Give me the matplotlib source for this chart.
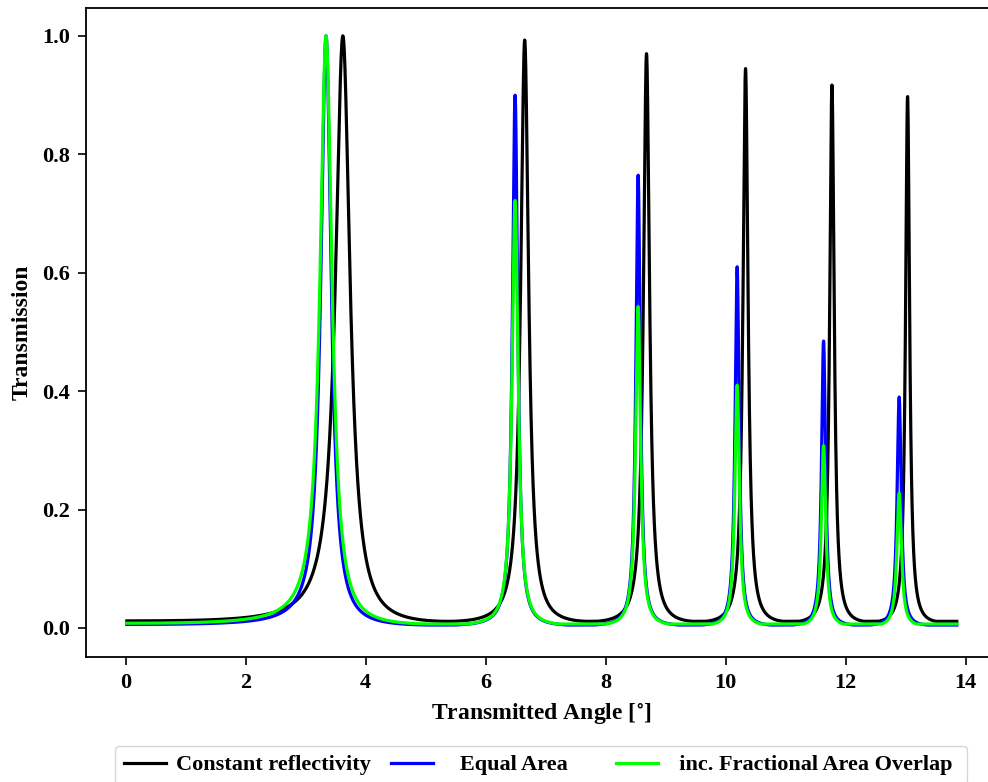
import numpy as np
import matplotlib
matplotlib.use("Agg")
import matplotlib.pyplot as plt

# Peak angles [deg] and peak transmission of each curve
black_centers = [3.62, 6.65, 8.68, 10.33, 11.77, 13.03]
black_heights = [1.0, 0.993, 0.970, 0.945, 0.917, 0.898]
blue_centers = [3.34, 6.49, 8.54, 10.19, 11.63, 12.89]
blue_heights = [1.0, 0.900, 0.765, 0.610, 0.485, 0.390]
green_centers = [3.34, 6.49, 8.54, 10.19, 11.63, 12.89]
green_heights = [1.0, 0.722, 0.543, 0.410, 0.308, 0.228]

# coefficient of finesse for each peak (losses broaden the later orders)
black_F = [88, 88, 88, 88, 88, 88]
blue_F = [200, 200, 170, 140, 110, 85]
green_F = [150, 150, 130, 110, 90, 70]

theta = np.linspace(0.02, 13.85, 5000)


def airy(theta, centers, heights, F):
    # Fabry-Perot transmission, phase goes with cos(theta)
    c = np.cos(np.radians(theta))
    cc = np.cos(np.radians(np.array(centers)))
    P = np.abs(np.diff(cc)).mean()
    d = np.clip(c[:, None] - cc[None, :], -P / 2, P / 2)
    F = np.array(F, dtype=float)[None, :]
    T = np.array(heights)[None, :] / (1 + F * np.sin(np.pi * d / P) ** 2)
    return T.max(axis=1)


plt.rcParams['font.family'] = ['Liberation Serif', 'DejaVu Serif']
plt.rcParams['font.weight'] = 'bold'
plt.rcParams['mathtext.fontset'] = 'stix'

fig = plt.figure(figsize=(9.88, 7.82), dpi=100)
ax = fig.add_axes([86 / 988, 1 - 657 / 782, (997 - 86) / 988, (657 - 8) / 782])

ax.plot(theta, airy(theta, black_centers, black_heights, black_F),
        color='black', lw=2.3, label='Constant reflectivity')
ax.plot(theta, airy(theta, blue_centers, blue_heights, blue_F),
        color='blue', lw=2.3, label='   Equal Area     ')
ax.plot(theta, airy(theta, green_centers, green_heights, green_F),
        color='lime', lw=2.3, label='  inc. Fractional Area Overlap ')

ax.set_xlim(-0.66, 14.52)
ax.set_ylim(-0.049, 1.047)
ax.set_xticks(range(0, 15, 2))
ax.set_yticks([0.0, 0.2, 0.4, 0.6, 0.8, 1.0])
ax.set_yticklabels(['0.0', '0.2', '0.4', '0.6', '0.8', '1.0'])
ax.tick_params(labelsize=16, width=1.2, length=5.5, pad=6)
for s in ax.spines.values():
    s.set_linewidth(1.3)

ax.set_xlabel(r'Transmitted Angle [$^{\circ}$]', fontsize=17, fontweight='bold', labelpad=6)
ax.set_ylabel('Transmission', fontsize=17, fontweight='bold', labelpad=7)

fig.legend(loc='upper left', bbox_to_anchor=(115 / 988, 1 - 746 / 782),
           ncol=3, fontsize=16, handlelength=1.9, handletextpad=0.45,
           columnspacing=0.9, frameon=True, fancybox=True, borderaxespad=0.0)

fig.savefig('out.png', dpi=100)
